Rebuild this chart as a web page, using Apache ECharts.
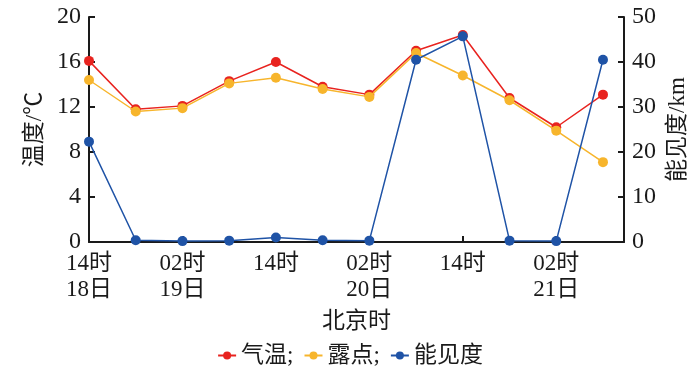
<!DOCTYPE html>
<html>
<head>
<meta charset="utf-8">
<script src="https://cdn.jsdelivr.net/npm/echarts@6/dist/echarts.min.js"></script>
<style>html,body{margin:0;padding:0;background:#fff;}#c{width:700px;height:372px;}</style>
</head>
<body>
<div id="c"></div>
<script>
var categories = ['18日14时','18日20时','19日02时','19日08时','19日14时','19日20时','20日02时','20日08时','20日14时','20日20时','21日02时','21日08时'];
var tempValues = [16.1, 11.8, 12.1, 14.3, 16.0, 13.8, 13.1, 17.0, 18.4, 12.8, 10.2, 13.1];
var dewValues = [14.4, 11.6, 11.9, 14.1, 14.6, 13.6, 12.9, 16.8, 14.8, 12.6, 9.9, 7.1];
var visValues = [22.3, 0.4, 0.2, 0.3, 1.0, 0.4, 0.3, 40.5, 45.7, 0.3, 0.2, 40.5];
var xTickLabels = ['14时\n18日', '02时\n19日', '14时', '02时\n20日', '14时', '02时\n21日'];
var seriesNames = ['气温;', '露点;', '能见度'];

var FONT = "'Liberation Serif', 'Noto Sans CJK SC', serif";
function pairs(vals){ return vals.map(function(v,i){ return [i, v]; }); }

var chart = echarts.init(document.getElementById('c'), null, {renderer:'canvas'});
var axisLineStyle = {color:'#1a1a1a', width:2};
chart.setOption({
  animation:false,
  backgroundColor:'#fff',
  textStyle:{fontFamily:FONT},
  grid:{left:89, right:76, top:17, bottom:130, containLabel:false},
  legend:{
    data:seriesNames, left:'center', top:339, itemWidth:18, itemHeight:10, itemGap:10,
    textStyle:{fontFamily:FONT, fontSize:23, color:'#1a1a1a'}
  },
  xAxis:{
    type:'value', min:0, max:11.45, interval:2,
    name:'北京时', nameLocation:'middle', nameGap:68,
    nameTextStyle:{fontFamily:FONT, fontSize:23, color:'#1a1a1a'},
    axisLine:{lineStyle:axisLineStyle},
    axisTick:{inside:true, length:6, lineStyle:axisLineStyle},
    splitLine:{show:false},
    axisLabel:{
      fontFamily:FONT, fontSize:23, color:'#1a1a1a', lineHeight:26, margin:9, showMaxLabel:false,
      formatter:function(v){ if (v % 2 !== 0) return ''; return xTickLabels[v/2] || ''; }
    }
  },
  yAxis:[{
    type:'value', min:0, max:20, interval:4, position:'left',
    name:'温度/℃', nameLocation:'middle', nameGap:43, nameRotate:90,
    nameTextStyle:{fontFamily:FONT, fontSize:23, color:'#1a1a1a'},
    axisLine:{show:true, lineStyle:axisLineStyle},
    axisTick:{show:true, inside:true, length:6, lineStyle:axisLineStyle},
    splitLine:{show:false},
    axisLabel:{fontFamily:FONT, fontSize:24, color:'#1a1a1a', margin:8}
  },{
    type:'value', min:0, max:50, interval:10, position:'right',
    name:'能见度/km', nameLocation:'middle', nameGap:37, nameRotate:90,
    nameTextStyle:{fontFamily:FONT, fontSize:23, color:'#1a1a1a'},
    axisLine:{show:true, lineStyle:axisLineStyle},
    axisTick:{show:true, inside:true, length:6, lineStyle:axisLineStyle},
    splitLine:{show:false},
    axisLabel:{fontFamily:FONT, fontSize:24, color:'#1a1a1a', margin:8}
  }],
  series:[
    {name:seriesNames[0], type:'line', yAxisIndex:0, data:pairs(tempValues), symbol:'circle', symbolSize:10,
     itemStyle:{color:'#e8231f'}, lineStyle:{color:'#e8231f', width:1.5}, z:3},
    {name:seriesNames[1], type:'line', yAxisIndex:0, data:pairs(dewValues), symbol:'circle', symbolSize:10,
     itemStyle:{color:'#f7b52c'}, lineStyle:{color:'#f7b52c', width:1.5}, z:4},
    {name:seriesNames[2], type:'line', yAxisIndex:1, data:pairs(visValues), symbol:'circle', symbolSize:10,
     itemStyle:{color:'#1f53a6'}, lineStyle:{color:'#1f53a6', width:1.5}, z:5}
  ]
});
</script>
</body>
</html>
